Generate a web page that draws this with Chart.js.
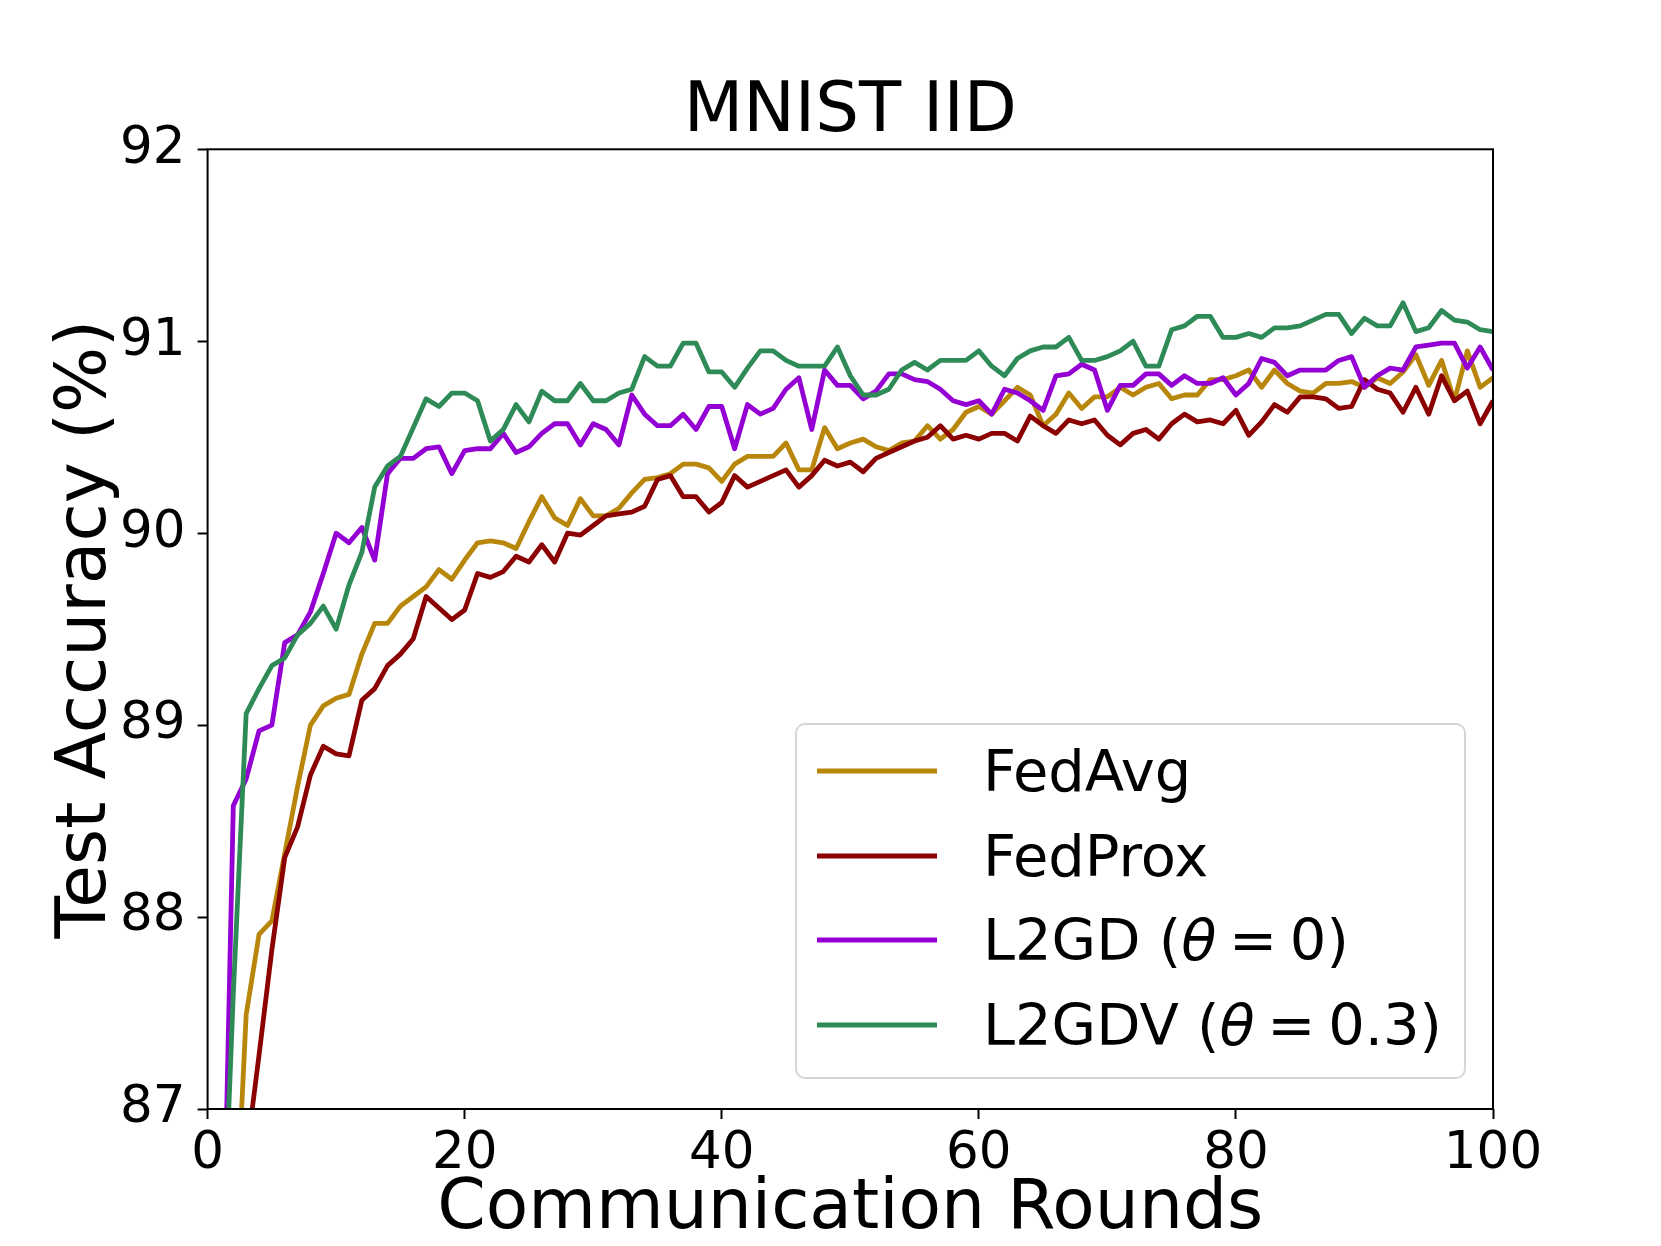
<!DOCTYPE html>
<html>
<head>
<meta charset="utf-8">
<title>MNIST IID</title>
<script src="https://cdn.jsdelivr.net/npm/chart.js@4.4.0/dist/chart.umd.min.js"></script>
<style>
  html, body { margin: 0; padding: 0; background: #fff; }
  #wrap { width: 1661px; height: 1246px; }
  canvas { display: block; }
</style>
</head>
<body>
<div id="wrap"><canvas id="accChart" width="1661" height="1246"></canvas></div>
<script>
// communication rounds (x)
const rounds = [
  1, 2, 3, 4, 5, 6, 7, 8, 9, 10, 11, 12, 13, 14, 15, 16, 17, 18, 19, 20,
  21, 22, 23, 24, 25, 26, 27, 28, 29, 30, 31, 32, 33, 34, 35, 36, 37, 38, 39, 40,
  41, 42, 43, 44, 45, 46, 47, 48, 49, 50, 51, 52, 53, 54, 55, 56, 57, 58, 59, 60,
  61, 62, 63, 64, 65, 66, 67, 68, 69, 70, 71, 72, 73, 74, 75, 76, 77, 78, 79, 80,
  81, 82, 83, 84, 85, 86, 87, 88, 89, 90, 91, 92, 93, 94, 95, 96, 97, 98, 99, 100
];

// test accuracy (%)
const fedAvg = [
  85.3, 86.1, 87.49, 87.91, 87.98, 88.33, 88.68, 89.00, 89.10, 89.14,
  89.16, 89.37, 89.53, 89.53, 89.62, 89.67, 89.72, 89.81, 89.76, 89.86,
  89.95, 89.96, 89.95, 89.92, 90.06, 90.19, 90.08, 90.04, 90.18, 90.09,
  90.09, 90.13, 90.21, 90.28, 90.29, 90.31, 90.36, 90.36, 90.34, 90.27,
  90.36, 90.40, 90.40, 90.40, 90.47, 90.33, 90.33, 90.55, 90.44, 90.47,
  90.49, 90.45, 90.43, 90.47, 90.48, 90.56, 90.49, 90.54, 90.63, 90.66,
  90.62, 90.69, 90.76, 90.72, 90.56, 90.62, 90.73, 90.65, 90.71, 90.71,
  90.76, 90.72, 90.76, 90.78, 90.70, 90.72, 90.72, 90.80, 90.80, 90.82,
  90.85, 90.76, 90.85, 90.78, 90.74, 90.73, 90.78, 90.78, 90.79, 90.76,
  90.81, 90.78, 90.84, 90.93, 90.77, 90.90, 90.69, 90.95, 90.76, 90.81
];
const fedProx = [
  85.0, 85.9, 86.75, 87.28, 87.83, 88.31, 88.47, 88.74, 88.89, 88.85,
  88.84, 89.13, 89.19, 89.31, 89.37, 89.45, 89.67, 89.61, 89.55, 89.60,
  89.79, 89.77, 89.80, 89.88, 89.85, 89.94, 89.85, 90.00, 89.99, 90.04,
  90.09, 90.10, 90.11, 90.14, 90.28, 90.30, 90.19, 90.19, 90.11, 90.16,
  90.30, 90.24, 90.27, 90.30, 90.33, 90.24, 90.30, 90.38, 90.35, 90.37,
  90.32, 90.39, 90.42, 90.45, 90.48, 90.50, 90.56, 90.49, 90.51, 90.49,
  90.52, 90.52, 90.48, 90.61, 90.56, 90.52, 90.59, 90.57, 90.59, 90.51,
  90.46, 90.52, 90.54, 90.49, 90.57, 90.62, 90.58, 90.59, 90.57, 90.64,
  90.51, 90.58, 90.67, 90.63, 90.71, 90.71, 90.70, 90.65, 90.66, 90.80,
  90.75, 90.73, 90.63, 90.76, 90.62, 90.82, 90.69, 90.74, 90.57, 90.69
];
const l2gd = [
  85.5, 88.58, 88.72, 88.97, 89.00, 89.43, 89.47, 89.59, 89.79, 90.00,
  89.95, 90.03, 89.86, 90.31, 90.39, 90.39, 90.44, 90.45, 90.31, 90.43,
  90.44, 90.44, 90.52, 90.42, 90.45, 90.52, 90.57, 90.57, 90.46, 90.57,
  90.54, 90.46, 90.72, 90.62, 90.56, 90.56, 90.62, 90.54, 90.66, 90.66,
  90.44, 90.67, 90.62, 90.65, 90.75, 90.81, 90.54, 90.85, 90.77, 90.77,
  90.70, 90.74, 90.83, 90.83, 90.80, 90.79, 90.75, 90.69, 90.67, 90.69,
  90.62, 90.75, 90.73, 90.69, 90.64, 90.82, 90.83, 90.88, 90.85, 90.64,
  90.77, 90.77, 90.83, 90.83, 90.77, 90.82, 90.78, 90.78, 90.81, 90.72,
  90.78, 90.91, 90.89, 90.82, 90.85, 90.85, 90.85, 90.90, 90.92, 90.76,
  90.82, 90.86, 90.85, 90.97, 90.98, 90.99, 90.99, 90.86, 90.97, 90.85
];
const l2gdv = [
  85.9, 87.6, 89.06, 89.19, 89.31, 89.35, 89.47, 89.53, 89.62, 89.50,
  89.73, 89.90, 90.24, 90.35, 90.40, 90.55, 90.70, 90.66, 90.73, 90.73,
  90.69, 90.48, 90.54, 90.67, 90.58, 90.74, 90.69, 90.69, 90.78, 90.69,
  90.69, 90.73, 90.75, 90.92, 90.87, 90.87, 90.99, 90.99, 90.84, 90.84,
  90.76, 90.86, 90.95, 90.95, 90.90, 90.87, 90.87, 90.87, 90.97, 90.82,
  90.72, 90.72, 90.75, 90.85, 90.89, 90.85, 90.90, 90.90, 90.90, 90.95,
  90.87, 90.82, 90.91, 90.95, 90.97, 90.97, 91.02, 90.90, 90.90, 90.92,
  90.95, 91.00, 90.87, 90.87, 91.06, 91.08, 91.13, 91.13, 91.02, 91.02,
  91.04, 91.02, 91.07, 91.07, 91.08, 91.11, 91.14, 91.14, 91.04, 91.12,
  91.08, 91.08, 91.20, 91.05, 91.07, 91.16, 91.11, 91.10, 91.06, 91.05
];

const seriesNames = ['FedAvg', 'FedProx', 'L2GD (θ = 0)', 'L2GDV (θ = 0.3)'];
const seriesColors = ['#b8860b', '#8b0000', '#9400d3', '#2e8b57'];
const xTicks = [0, 20, 40, 60, 80, 100];
const yTicks = [87, 88, 89, 90, 91, 92];

const FONT = 'DejaVu Sans';

function toPoints(vals) {
  return vals.map((v, i) => ({ x: rounds[i], y: v }));
}

// box around the axes (all four spines)
const framePlugin = {
  id: 'frame',
  afterDatasetsDraw(chart) {
    const { ctx, chartArea: a } = chart;
    ctx.save();
    ctx.strokeStyle = '#000';
    ctx.lineWidth = 2;
    ctx.strokeRect(a.left, a.top, a.right - a.left, a.bottom - a.top);
    ctx.restore();
  }
};

// legend in lower right, matplotlib style, theta in italic
function drawLabel(ctx, text, x, y, size) {
  const normal = size + 'px "' + FONT + '"';
  const italic = 'italic ' + size + 'px "' + FONT + '"';
  const parts = text.split('θ');
  ctx.font = normal;
  if (parts.length === 1) { ctx.fillText(text, x, y); return; }
  // "L2GD (" + θ + " = 0)"
  ctx.fillText(parts[0], x, y);
  x += ctx.measureText(parts[0]).width;
  ctx.font = italic;
  ctx.fillText('θ', x, y);
  x += ctx.measureText('θ').width;
  ctx.font = normal;
  const rest = parts[1].trim(); // "= 0)"
  const eqGap = size * 0.22;
  x += eqGap;
  ctx.fillText('=', x, y);
  x += ctx.measureText('=').width + eqGap;
  ctx.fillText(rest.slice(1).trim(), x, y);
}

const legendPlugin = {
  id: 'boxLegend',
  afterDraw(chart) {
    const ctx = chart.ctx;
    const bx = 796, by = 724, bw = 669, bh = 354, r = 9;
    ctx.save();
    ctx.beginPath();
    ctx.roundRect(bx, by, bw, bh, r);
    ctx.fillStyle = 'rgba(255,255,255,0.8)';
    ctx.fill();
    ctx.strokeStyle = '#d6d6d6';
    ctx.lineWidth = 2;
    ctx.stroke();

    const rows = [771, 856, 940, 1025];
    chart.data.datasets.forEach((ds, i) => {
      const y = rows[i];
      ctx.beginPath();
      ctx.moveTo(817, y);
      ctx.lineTo(937, y);
      ctx.strokeStyle = ds.borderColor;
      ctx.lineWidth = 4.8;
      ctx.stroke();
      ctx.fillStyle = '#000';
      ctx.textBaseline = 'middle';
      ctx.textAlign = 'left';
      drawLabel(ctx, ds.label, 983, y + 5, 57.5);
    });
    ctx.restore();
  }
};

const datasets = [fedAvg, fedProx, l2gd, l2gdv].map((vals, i) => ({
  label: seriesNames[i],
  data: toPoints(vals),
  borderColor: seriesColors[i],
  backgroundColor: seriesColors[i],
  borderWidth: 4.8,
  pointRadius: 0,
  tension: 0,
  borderJoinStyle: 'round',
  clip: 0,
  order: 4 - i
}));

const ctx = document.getElementById('accChart').getContext('2d');
new Chart(ctx, {
  type: 'line',
  data: { datasets: datasets },
  options: {
    responsive: false,
    animation: false,
    layout: { padding: { left: 0, right: 168, top: 0, bottom: 0 } },
    plugins: {
      legend: { display: false },
      tooltip: { enabled: false },
      title: {
        display: true,
        text: 'MNIST IID',
        color: '#000',
        fullSize: false,
        font: { family: FONT, size: 69, weight: 'normal', lineHeight: 1 },
        padding: { top: 78.9, bottom: 1.4 }
      }
    },
    scales: {
      x: {
        type: 'linear',
        min: 0, max: 100,
        afterBuildTicks: s => { s.ticks = xTicks.map(v => ({ value: v })); },
        afterFit: s => { s.height = 137; },
        grid: { drawOnChartArea: false, drawTicks: true, tickLength: 10, tickWidth: 2, tickColor: '#000' },
        border: { display: false },
        ticks: { color: '#000', font: { family: FONT, size: 51.5 }, padding: 5, maxRotation: 0 },
        title: {
          display: true, text: 'Communication Rounds', color: '#000',
          font: { family: FONT, size: 69.5 }, padding: { top: 0, bottom: -6 }
        }
      },
      y: {
        type: 'linear',
        min: 87, max: 92,
        afterBuildTicks: s => { s.ticks = yTicks.map(v => ({ value: v })); },
        afterFit: s => { s.width = 207.6; },
        grid: { drawOnChartArea: false, drawTicks: true, tickLength: 10, tickWidth: 2, tickColor: '#000' },
        border: { display: false },
        ticks: { color: '#000', font: { family: FONT, size: 51.5 }, padding: 12 },
        title: {
          display: true, text: 'Test Accuracy (%)', color: '#000',
          font: { family: FONT, size: 69.5 }, padding: { top: 45, bottom: 0 }
        }
      }
    }
  },
  plugins: [framePlugin, legendPlugin]
});
</script>
</body>
</html>
